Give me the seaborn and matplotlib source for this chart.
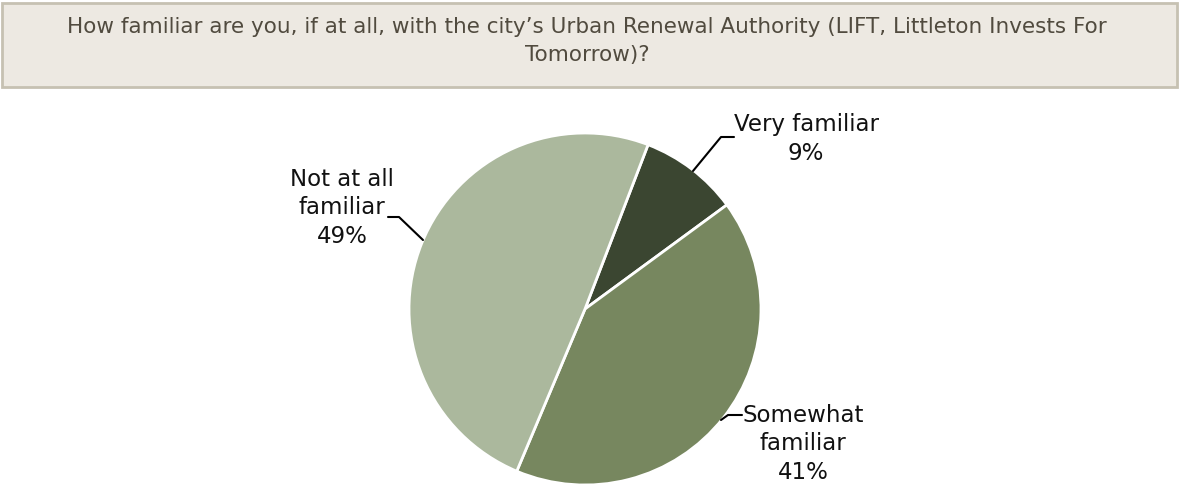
import matplotlib
matplotlib.use("Agg")
import matplotlib.pyplot as plt
from matplotlib.patches import Rectangle
import seaborn as sns

categories = ["Very familiar", "Somewhat\nfamiliar", "Not at all\nfamiliar"]
values = [9, 41, 49]
pct_labels = ["9%", "41%", "49%"]
colors = ["#3B4631", "#77875F", "#ABB89D"]
title = "How familiar are you, if at all, with the city\u2019s Urban Renewal Authority (LIFT, Littleton Invests For\nTomorrow)?"

sns.set_theme(style="white")
plt.rcParams['font.family'] = ['DejaVu Sans']

W, H = 1182, 484
fig = plt.figure(figsize=(W / 100, H / 100), dpi=100)
ax = fig.add_axes([0, 0, 1, 1])

# title box
ax.add_patch(Rectangle((2, H - 87), 1175, 84, facecolor="#EDE9E2",
                       edgecolor="#C6C1B2", linewidth=2, zorder=1))
ax.text(587, H - 41, title, ha="center", va="center", fontsize=15.5,
        color="#514B3F", linespacing=1.5, zorder=2)

cx, cy, r = 585, H - 309, 176
ax.pie(values, colors=colors, startangle=69, counterclock=False,
       center=(cx, cy), radius=r, frame=True,
       wedgeprops=dict(edgecolor="white", linewidth=2))
ax.set_xlim(0, W)
ax.set_ylim(0, H)
ax.set_aspect("equal")
ax.axis("off")

label_pos = [(806, H - 139), (803, H - 444), (342, H - 208)]
for cat, pl, (lx, ly) in zip(categories, pct_labels, label_pos):
    ax.text(lx, ly, f"{cat}\n{pl}", ha="center", va="center", fontsize=16.5,
            color="#111111", linespacing=1.3)

# leader lines
ax.plot([693, 721, 734], [H - 171, H - 137, H - 137], color="black", lw=1.5)
ax.plot([721, 728, 742], [H - 420, H - 415, H - 415], color="black", lw=1.5)
ax.plot([388, 399, 423], [H - 217, H - 217, H - 240], color="black", lw=1.5)

fig.savefig("out.png", dpi=100)
